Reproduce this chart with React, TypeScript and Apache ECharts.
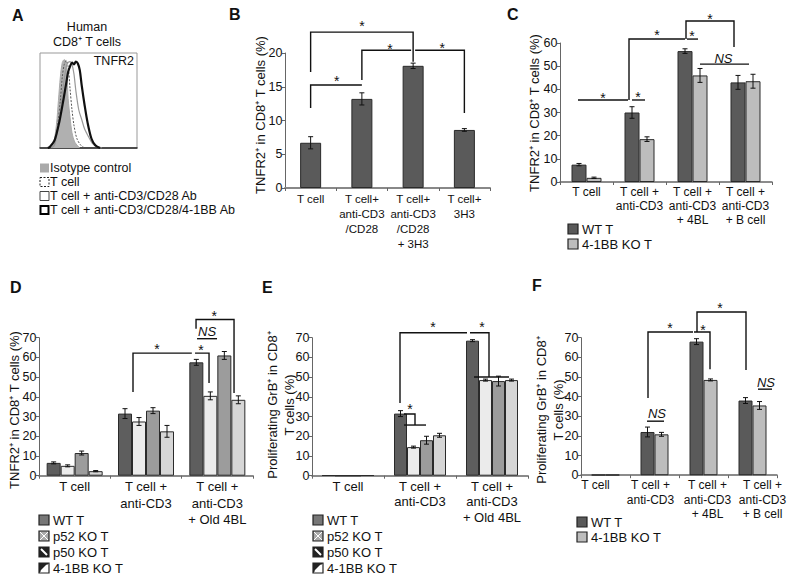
import React, { useEffect, useRef } from "react";
import * as echarts from "echarts";

const FONT = "'Liberation Sans', Arial, Helvetica, sans-serif";

// ---------- Panel A: histogram (x: fluorescence units 0-100, y: % of max) ----------
const histIsotype = [[11,0],[14,5],[17,25],[19,50],[21,75],[23,90],[25,93],[27,91],[28,75],[29,52],[31,32],[33,16],[36,6],[41,0]];
const histTcell = [[12,0],[15,4],[18,22],[21,50],[23,75],[25,88],[27,92],[29,86],[31,62],[33,40],[35,24],[38,10],[42,3],[46,0]];
const histCD28 = [[12,0],[15,3],[18,18],[21,40],[24,65],[27,85],[29,90],[31,91],[33,88],[35,78],[37,60],[40,40],[43,30],[46,20],[50,12],[54,5],[59,1],[64,0]];
const hist41BB = [[8,0],[10,1],[15,8],[20,28],[24,50],[27,68],[29,80],[31,86],[33,90],[35,88],[37,91],[39,89],[41,82],[43,66],[46,45],[49,27],[53,10],[57,3],[62,0]];
const histLegend = ["Isotype control", "T cell", "T cell + anti-CD3/CD28 Ab", "T cell + anti-CD3/CD28/4-1BB Ab"];

// ---------- Panel B ----------
const catsB = ["T cell", "T cell+\nanti-CD3\n/CD28", "T cell+\nanti-CD3\n/CD28\n+ 3H3", "T cell+\n3H3"];
const valsB = [6.7, 13.2, 18.1, 8.6];
const errsB = [0.9, 0.9, 0.4, 0.2];

// ---------- Panels C & F ----------
const catsCF = ["T cell", "T cell +\nanti-CD3", "T cell +\nanti-CD3\n+ 4BL", "T cell +\nanti-CD3\n+ B cell"];
const namesCF = ["WT T", "4-1BB KO T"];
const wtC = [7.5, 30, 56.5, 43];
const koC = [1.8, 18.5, 46, 43.5];
const wtCErr = [0.5, 2.5, 1, 3];
const koCErr = [0.3, 1, 3, 3];
const wtF = [0.2, 22, 68, 38];
const koF = [0.2, 20.8, 48.5, 35.5];
const wtFErr = [0, 2.5, 1.5, 1.5];
const koFErr = [0, 1, 0.5, 2];

// ---------- Panels D & E ----------
const catsDE = ["T cell", "T cell +\nanti-CD3", "T cell +\nanti-CD3\n+ Old 4BL"];
const namesDE = ["WT T", "p52 KO T", "p50 KO T", "4-1BB KO T"];
const wtD = [6.5, 31.5, 57.5];
const p52D = [5, 27.5, 40.5];
const p50D = [11.5, 33, 61];
const koD = [2.3, 22.5, 38.5];
const wtDErr = [0.5, 2.5, 1.5];
const p52DErr = [0.5, 2, 2];
const p50DErr = [1, 1.5, 2];
const koDErr = [0.3, 3, 2];
const wtE = [0.2, 31.5, 68.5];
const p52E = [0, 14.5, 48.5];
const p50E = [0, 18, 48];
const koE = [0.2, 20.5, 48.5];
const wtEErr = [0, 1.5, 0.5];
const p52EErr = [0, 0.5, 0.5];
const p50EErr = [0, 2, 2.5];
const koEErr = [0, 1, 0.5];

const yTitleTNFR2 = "TNFR2⁺ in CD8⁺ T cells (%)";
const yTitleGrB = "Proliferating GrB⁺ in CD8⁺\nT cells (%)";

// significance annotations: [categoryIndex, pixelOffset, value]
type Pt = [number, number, number];
type Mark = { text: string; at: Pt };
const bracketsB: Pt[][] = [
  [[0,0,17.2],[0,0,23.1],[2,0,23.1],[2,0,18.7]],
  [[1,0,16.0],[1,0,20.4],[2,-2,20.4]],
  [[2,2,20.4],[3,0,20.4],[3,0,11.1]],
  [[0,0,11.85],[0,0,15.26],[1,0,15.26]],
];
const marksB: Mark[] = [
  { text: "*", at: [1,0,24.4] }, { text: "*", at: [1,28,21.0] },
  { text: "*", at: [2,29,21.2] }, { text: "*", at: [0,26,16.3] },
];
const bracketsC: Pt[][] = [
  [[0,-8.5,35.4],[1,-11.5,35.4]],
  [[1,-7.5,35.4],[1,5.5,35.4]],
  [[1,-10.5,35.4],[1,-10.5,61.7],[2,-7.5,61.7]],
  [[2,-5.5,61.7],[2,5.5,61.7]],
  [[2,-6.5,61.7],[2,-6.5,69.5],[3,-11.5,69.5],[3,-11.5,58.3]],
  [[2,7.5,50.9],[3,3.5,50.9]],
];
const marksC: Mark[] = [
  { text: "*", at: [0,16.5,37.6] }, { text: "*", at: [1,-1.5,38] },
  { text: "*", at: [1,17.5,64.7] }, { text: "*", at: [2,-0.5,64.3] },
  { text: "*", at: [2,17.5,71.7] }, { text: "NS", at: [3,-22,53.5] },
];
const bracketsD: Pt[][] = [
  [[1,-13,42.4],[1,-13,62.2],[2,-25.5,62.2]],
  [[2,-22.3,62.2],[2,-8.3,62.2],[2,-8.3,47]],
  [[2,-20.3,69.5],[2,-0.3,69.5]],
  [[2,-21.3,74.5],[2,-21.3,79.2],[2,16.7,79.2],[2,16.7,42]],
];
const marksD: Mark[] = [
  { text: "*", at: [1,11,66] }, { text: "*", at: [2,-16.3,65.4] },
  { text: "NS", at: [2,-10.3,73] }, { text: "*", at: [2,-3,82.7] },
];
const bracketsE: Pt[][] = [
  [[1,-20,36.9],[1,-20,72.5],[2,-25,72.5]],
  [[2,-22,72.5],[2,-3,72.5],[2,-3,50.1]],
  [[2,-18,50.1],[2,17,50.1]],
  [[1,-16,31.3],[1,-5,31.3],[1,-5,25.7]],
  [[1,-16,25.7],[1,6,25.7]],
];
const marksE: Mark[] = [
  { text: "*", at: [1,13,76.8] }, { text: "*", at: [2,-10,76.8] }, { text: "*", at: [1,-10,35.4] },
];
const bracketsF: Pt[][] = [
  [[1,-6.5,39.3],[1,-6.5,72.9],[2,-10.5,72.9]],
  [[2,-9.5,72.9],[2,6.5,72.9],[2,6.5,54]],
  [[2,-6.5,72.9],[2,-6.5,83.1],[3,-6.5,83.1],[3,-6.5,53.5]],
  [[1,-7.5,27.5],[1,9.5,27.5]],
  [[3,5.5,43.8],[3,19.5,43.8]],
];
const marksF: Mark[] = [
  { text: "*", at: [1,15.5,76.5] }, { text: "*", at: [2,-0.5,75.5] }, { text: "*", at: [2,16.5,86.7] },
  { text: "NS", at: [1,2.5,31.6] }, { text: "NS", at: [3,13.5,47.4] },
];

const DARK = "#5a5a5a";
const LIGHT = "#bdbdbd";
const DE_COLORS = ["#5e5e5e", "#ebebeb", "#9c9c9c", "#d6d6d6"];

function barSeries(grid: number, name: string, data: number[], color: string, bw: number) {
  return {
    type: "bar", name, xAxisIndex: grid, yAxisIndex: grid, data, barWidth: bw, barGap: "0%",
    itemStyle: { color, borderColor: "#2a2a2a", borderWidth: 1 }, z: 2,
  };
}

function errSeries(grid: number, vals: number[], errs: number[], idx: number, n: number, bw: number) {
  const dx = (idx - (n - 1) / 2) * bw;
  return {
    type: "custom", xAxisIndex: grid, yAxisIndex: grid, clip: false, silent: true, z: 4,
    data: vals.map((v, i) => [i, v, errs[i]]),
    encode: { x: 0, y: 1 },
    renderItem: (_p: any, api: any) => {
      const c = api.value(0), v = api.value(1), e = api.value(2);
      if (!e) return { type: "group", children: [] };
      const t = api.coord([c, v + e]);
      const b = api.coord([c, v - e]);
      const x = t[0] + dx;
      const st = { stroke: "#111", lineWidth: 1 };
      return {
        type: "group",
        children: [
          { type: "line", shape: { x1: x, y1: t[1], x2: x, y2: b[1] }, style: st },
          { type: "line", shape: { x1: x - 2.5, y1: t[1], x2: x + 2.5, y2: t[1] }, style: st },
          { type: "line", shape: { x1: x - 2.5, y1: b[1], x2: x + 2.5, y2: b[1] }, style: st },
        ],
      };
    },
  };
}

function annoSeries(grid: number, lines: Pt[][], marks: Mark[]) {
  return {
    type: "custom", xAxisIndex: grid, yAxisIndex: grid, clip: false, silent: true, z: 5,
    data: [[0, 0]],
    renderItem: (_p: any, api: any) => {
      const P = (q: Pt) => {
        const p = api.coord([q[0], q[2]]);
        return [p[0] + q[1], p[1]];
      };
      const children: any[] = [];
      lines.forEach((l) =>
        children.push({ type: "polyline", shape: { points: l.map(P) }, style: { stroke: "#111", lineWidth: 1.4, fill: null } })
      );
      marks.forEach((m) => {
        const p = P(m.at);
        const star = m.text === "*";
        children.push({
          type: "text", x: p[0], y: p[1] + (star ? 3 : 0),
          style: {
            text: m.text, fontSize: star ? 14 : 13, fontStyle: star ? "normal" : "italic",
            fontFamily: FONT, fill: "#111", textAlign: "center", textVerticalAlign: "middle",
            align: "center", verticalAlign: "middle",
          },
        });
      });
      return { type: "group", children };
    },
  };
}

function catAxis(grid: number, data: string[], lh: number, fs: number, shifts?: number[]) {
  const axisLabel: any = { interval: 0, fontSize: fs, lineHeight: lh, color: "#111", fontFamily: FONT, margin: 3 };
  if (shifts) {
    const rich: any = {};
    shifts.forEach((s, i) => {
      rich["s" + i] = {
        fontSize: fs, lineHeight: lh, color: "#111", fontFamily: FONT,
        padding: s >= 0 ? [0, 0, 0, 2 * s] : [0, -2 * s, 0, 0],
      };
    });
    axisLabel.rich = rich;
    axisLabel.formatter = (v: string, i: number) => v.split("\n").map((l) => `{s${i}|${l}}`).join("\n");
  }
  return {
    type: "category", gridIndex: grid, data,
    axisLine: { lineStyle: { color: "#666", width: 1.5 } },
    axisTick: { show: true, length: 3, lineStyle: { color: "#666" } },
    axisLabel,
  };
}
function valAxis(grid: number, max: number, interval: number) {
  return {
    type: "value", gridIndex: grid, min: 0, max, interval,
    axisLine: { show: true, lineStyle: { color: "#666", width: 1 } },
    axisTick: { show: true, length: 3, lineStyle: { color: "#666" } },
    splitLine: { show: false },
    axisLabel: { fontSize: 12.5, color: "#111", fontFamily: FONT, margin: 2.5 },
  };
}

function txt(x: number, y: number, text: string, o: any = {}) {
  return {
    type: "text", x, y, silent: true, rotation: o.rotation || 0,
    style: {
      text, fontSize: o.fontSize || 13, fontWeight: o.fontWeight || "normal", fontFamily: FONT,
      fill: "#111", textAlign: o.align || "left", textVerticalAlign: o.va || "middle",
      align: o.align || "left", verticalAlign: o.va || "middle", lineHeight: o.lineHeight,
    },
  };
}

function boxLegend(x: number, ys: number[], names: string[], fills: string[], tx: number) {
  const els: any[] = [];
  names.forEach((n, i) => {
    els.push({ type: "rect", shape: { x, y: ys[i] - 5, width: 10, height: 10 }, style: { fill: fills[i], stroke: "#222", lineWidth: 1.2 }, silent: true });
    els.push(txt(tx, ys[i], n));
  });
  return els;
}

function deLegend(x: number, tx: number) {
  const ys = [520, 536, 552, 568];
  const els: any[] = [];
  const s = { stroke: "#222", lineWidth: 1.2 };
  els.push({ type: "rect", shape: { x, y: ys[0] - 5, width: 10, height: 10 }, style: { fill: "#777", ...s } });
  els.push({ type: "rect", shape: { x, y: ys[1] - 5, width: 10, height: 10 }, style: { fill: "#aaa", ...s } });
  els.push({ type: "line", shape: { x1: x + 1, y1: ys[1] - 4, x2: x + 9, y2: ys[1] + 4 }, style: { stroke: "#fff", lineWidth: 1 } });
  els.push({ type: "line", shape: { x1: x + 9, y1: ys[1] - 4, x2: x + 1, y2: ys[1] + 4 }, style: { stroke: "#fff", lineWidth: 1 } });
  els.push({ type: "rect", shape: { x, y: ys[2] - 5, width: 10, height: 10 }, style: { fill: "#222", ...s } });
  els.push({ type: "line", shape: { x1: x + 2, y1: ys[2] - 3, x2: x + 8, y2: ys[2] + 3 }, style: { stroke: "#fff", lineWidth: 2 } });
  els.push({ type: "rect", shape: { x, y: ys[3] - 5, width: 10, height: 10 }, style: { fill: "#fff", ...s } });
  els.push({ type: "polygon", shape: { points: [[x, ys[3] - 5], [x + 10, ys[3] - 5], [x, ys[3] + 5]] }, style: { fill: "#222" } });
  els.push({ type: "line", shape: { x1: x + 2, y1: ys[3] + 3, x2: x + 8, y2: ys[3] - 3 }, style: { stroke: "#fff", lineWidth: 1.5 } });
  namesDE.forEach((n, i) => els.push(txt(tx, ys[i], n)));
  return els;
}

export default function App() {
  const ref = useRef<HTMLDivElement>(null);
  useEffect(() => {
    if (!ref.current) return;
    const chart = echarts.init(ref.current, undefined, { renderer: "svg" });

    const grids = [
      { left: 40, top: 53, width: 97, height: 95, show: true, borderColor: "#999", borderWidth: 1 },
      { left: 285, top: 53, width: 205, height: 135 },
      { left: 560, top: 43, width: 212, height: 139 },
      { left: 39, top: 337.7, width: 214, height: 138 },
      { left: 312, top: 337.7, width: 216, height: 138 },
      { left: 581, top: 337.7, width: 196, height: 137.5 },
    ].map((g) => ({ ...g, containLabel: false, outerBoundsMode: "none" }));

    const xAxis: any[] = [
      { type: "value", gridIndex: 0, min: 0, max: 100, axisLine: { show: true, lineStyle: { color: "#222", width: 1.5 } }, axisTick: { show: false }, axisLabel: { show: false }, splitLine: { show: false } },
      catAxis(1, catsB, 15, 11.5),
      catAxis(2, catsCF, 14, 12),
      catAxis(3, catsDE, 16.5, 13),
      catAxis(4, catsDE, 15.5, 13),
      catAxis(5, catsCF, 14.5, 12, [-10, -4, 4, 10]),
    ];
    xAxis[1].axisLine.lineStyle = { color: "#888", width: 2 };
    const yAxis: any[] = [
      { type: "value", gridIndex: 0, min: 0, max: 100, show: false },
      valAxis(1, 20, 5),
      valAxis(2, 60, 10),
      valAxis(3, 70, 10),
      valAxis(4, 70, 10),
      valAxis(5, 70, 10),
    ];

    const series: any[] = [
      { type: "line", name: histLegend[0], xAxisIndex: 0, yAxisIndex: 0, data: histIsotype, smooth: 0.3, symbol: "none", lineStyle: { color: "#aaa", width: 1 }, areaStyle: { color: "#b0b0b0", opacity: 1 }, z: 1 },
      { type: "line", name: histLegend[1], xAxisIndex: 0, yAxisIndex: 0, data: histTcell, smooth: 0.3, symbol: "none", lineStyle: { color: "#555", width: 1, type: [2, 1.5] }, z: 2 },
      { type: "line", name: histLegend[2], xAxisIndex: 0, yAxisIndex: 0, data: histCD28, smooth: 0.3, symbol: "none", lineStyle: { color: "#999", width: 1.2 }, z: 3 },
      { type: "line", name: histLegend[3], xAxisIndex: 0, yAxisIndex: 0, data: hist41BB, smooth: 0.3, symbol: "none", lineStyle: { color: "#111", width: 2.2 }, z: 4 },

      barSeries(1, "B", valsB, DARK, 21),
      errSeries(1, valsB, errsB, 0, 1, 21),
      annoSeries(1, bracketsB, marksB),

      barSeries(2, namesCF[0], wtC, DARK, 15),
      barSeries(2, namesCF[1], koC, LIGHT, 15),
      errSeries(2, wtC, wtCErr, 0, 2, 15),
      errSeries(2, koC, koCErr, 1, 2, 15),
      annoSeries(2, bracketsC, marksC),

      barSeries(3, namesDE[0], wtD, DE_COLORS[0], 14),
      barSeries(3, namesDE[1], p52D, DE_COLORS[1], 14),
      barSeries(3, namesDE[2], p50D, DE_COLORS[2], 14),
      barSeries(3, namesDE[3], koD, DE_COLORS[3], 14),
      errSeries(3, wtD, wtDErr, 0, 4, 14),
      errSeries(3, p52D, p52DErr, 1, 4, 14),
      errSeries(3, p50D, p50DErr, 2, 4, 14),
      errSeries(3, koD, koDErr, 3, 4, 14),
      annoSeries(3, bracketsD, marksD),

      barSeries(4, namesDE[0], wtE, DE_COLORS[0], 13),
      barSeries(4, namesDE[1], p52E, DE_COLORS[1], 13),
      barSeries(4, namesDE[2], p50E, DE_COLORS[2], 13),
      barSeries(4, namesDE[3], koE, DE_COLORS[3], 13),
      errSeries(4, wtE, wtEErr, 0, 4, 13),
      errSeries(4, p52E, p52EErr, 1, 4, 13),
      errSeries(4, p50E, p50EErr, 2, 4, 13),
      errSeries(4, koE, koEErr, 3, 4, 13),
      annoSeries(4, bracketsE, marksE),

      barSeries(5, namesCF[0], wtF, DARK, 14),
      barSeries(5, namesCF[1], koF, LIGHT, 14),
      errSeries(5, wtF, wtFErr, 0, 2, 14),
      errSeries(5, koF, koFErr, 1, 2, 14),
      annoSeries(5, bracketsF, marksF),
    ];

    const aLegendYs = [168, 182, 196, 210];
    const graphic: any[] = [
      txt(12, 15, "A", { fontSize: 16, fontWeight: "bold" }),
      txt(229, 14, "B", { fontSize: 16, fontWeight: "bold" }),
      txt(507, 14, "C", { fontSize: 16, fontWeight: "bold" }),
      txt(10, 287, "D", { fontSize: 16, fontWeight: "bold" }),
      txt(262, 287, "E", { fontSize: 16, fontWeight: "bold" }),
      txt(532, 285, "F", { fontSize: 16, fontWeight: "bold" }),
      txt(87, 27, "Human", { align: "center", fontSize: 12.5 }),
      txt(87, 42, "CD8⁺ T cells", { align: "center", fontSize: 12.5 }),
      txt(134, 61, "TNFR2", { align: "right", fontSize: 12.5 }),
      { type: "rect", shape: { x: 40, y: aLegendYs[0] - 4.5, width: 9, height: 9 }, style: { fill: "#aaa" } },
      { type: "rect", shape: { x: 40, y: aLegendYs[1] - 4.5, width: 9, height: 9 }, style: { fill: "#fff", stroke: "#222", lineWidth: 1, lineDash: [2, 1.5] } },
      { type: "rect", shape: { x: 40, y: aLegendYs[2] - 4.5, width: 9, height: 9 }, style: { fill: "#fff", stroke: "#444", lineWidth: 1 } },
      { type: "rect", shape: { x: 40.5, y: aLegendYs[3] - 4, width: 8, height: 8 }, style: { fill: "#fff", stroke: "#000", lineWidth: 2 } },
      ...histLegend.map((n, i) => txt(50, aLegendYs[i], n, { fontSize: 12.5 })),
      txt(260, 115, yTitleTNFR2, { rotation: Math.PI / 2, align: "center" }),
      txt(534, 113, yTitleTNFR2, { rotation: Math.PI / 2, align: "center" }),
      txt(14, 410, yTitleTNFR2, { rotation: Math.PI / 2, align: "center" }),
      txt(281, 405, yTitleGrB, { rotation: Math.PI / 2, align: "center", lineHeight: 17 }),
      txt(550, 410, yTitleGrB, { rotation: Math.PI / 2, align: "center", lineHeight: 17 }),
      ...boxLegend(568, [229, 244], namesCF, [DARK, LIGHT], 582),
      ...boxLegend(577, [522, 537], namesCF, [DARK, LIGHT], 591),
      ...deLegend(39, 53),
      ...deLegend(313, 327),
    ];

    chart.setOption({
      animation: false,
      backgroundColor: "#fff",
      textStyle: { fontFamily: FONT },
      grid: grids,
      xAxis,
      yAxis,
      series,
      graphic,
    });
    return () => chart.dispose();
  }, []);
  return <div ref={ref} style={{ position: "absolute", left: 0, top: 0, width: 800, height: 578, background: "#fff" }} />;
}
